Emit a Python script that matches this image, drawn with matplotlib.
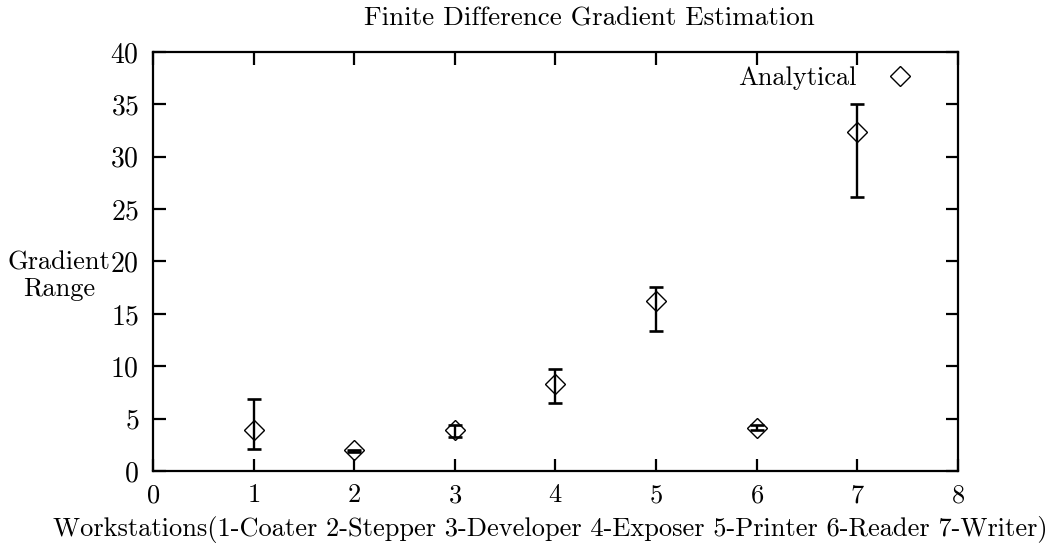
import numpy as np
import matplotlib
matplotlib.use("Agg")
from matplotlib import pyplot as plt

plt.rcParams['font.family'] = ['cmr10', 'DejaVu Serif']
plt.rcParams['axes.formatter.use_mathtext'] = True

# workstation index, analytical gradient and finite difference range
stations = [1, 2, 3, 4, 5, 6, 7]
analytical = [3.9, 2.0, 3.9, 8.3, 16.2, 4.1, 32.4]
fd_low = [2.05, 1.8, 3.25, 6.5, 13.35, 3.95, 26.15]
fd_high = [6.85, 2.0, 4.35, 9.7, 17.55, 4.35, 35.05]

x_ticks = [0, 1, 2, 3, 4, 5, 6, 7, 8]
y_ticks = [0, 5, 10, 15, 20, 25, 30, 35, 40]

fig = plt.figure(figsize=(10.59, 5.54), dpi=100)
ax = fig.add_axes([0.1445, 0.150, 0.760, 0.756])

lo = np.array(fd_low)
hi = np.array(fd_high)
mid = (lo + hi) / 2
ax.errorbar(stations, mid, yerr=[mid - lo, hi - mid], fmt='none', ecolor='black',
            elinewidth=1.7, capsize=4.8, capthick=1.9)
ax.plot(stations, analytical, linestyle='none', marker='D', ms=10.5, mfc='none',
        mec='black', mew=1.0, label='Analytical')

ax.set_xlim(0, 8)
ax.set_ylim(0, 40)
ax.set_xticks(x_ticks)
ax.set_yticks(y_ticks)
ax.tick_params(direction='in', length=9, width=1.6, top=True, right=True,
               labelsize=20, pad=10)
ax.tick_params(axis='x', labelsize=19, pad=9)
for s in ax.spines.values():
    s.set_linewidth(1.6)

leg = ax.legend(loc='upper right', markerfirst=False, frameon=False, fontsize=19,
                handlelength=1.5, handletextpad=0.9, bbox_to_anchor=(0.982, 1.022))

fig.text(0.557, 0.967, 'Finite Difference Gradient Estimation', ha='center', va='center',
         fontsize=19.5)
fig.text(0.52, 0.045,
         'Workstations(1-Coater 2-Stepper 3-Developer 4-Exposer 5-Printer 6-Reader 7-Writer)',
         ha='center', va='center', fontsize=19)
fig.text(0.056, 0.502, 'Gradient\nRange', ha='center', va='center', fontsize=19,
         linespacing=1.1)

fig.savefig('out.png', dpi=100)
